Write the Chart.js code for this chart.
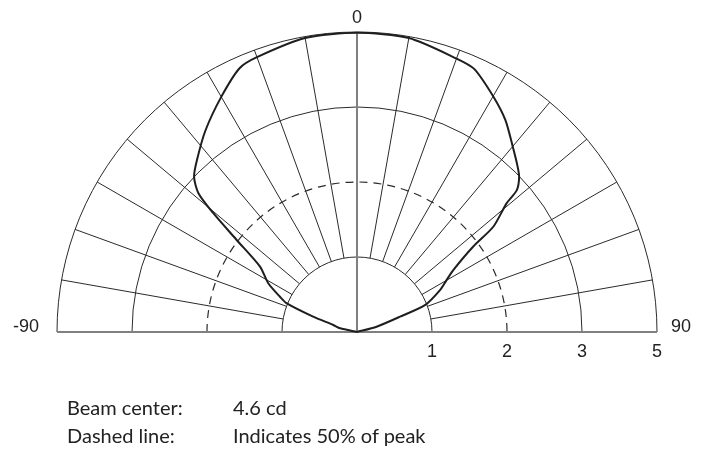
<!DOCTYPE html>
<html>
<head>
<meta charset="utf-8">
<script src="https://cdn.jsdelivr.net/npm/chart.js@4/dist/chart.umd.min.js"></script>
<style>
  html, body { margin: 0; padding: 0; background: #fff; }
  #wrap { position: relative; width: 707px; height: 450px; }
  canvas { display: block; }
  .note { position: absolute; font-family: Lato, "Noto Sans", sans-serif; font-size: 20px; color: #222; white-space: nowrap; }
</style>
</head>
<body>
<div id="wrap">
  <canvas id="chart" width="707" height="450"></canvas>
  <div class="note" style="left:67px; top:395px;">Beam center:</div>
  <div class="note" style="left:233px; top:395px;">4.6 cd</div>
  <div class="note" style="left:67px; top:423px;">Dashed line:</div>
  <div class="note" style="left:233px; top:423px;">Indicates 50% of peak</div>
</div>
<script>
// beam profile, angle from beam axis (deg) and radius in ring units
const angleDeg = [-90, -77.7, -73.5, -70.7, -67.8, -65.4, -61.2, -56, -52.6, -50.4, -48.8, -46.4, -43, -37, -30, -24, -20, -10,
                  0, 10, 20, 24, 30, 35, 40, 44, 46.3, 48.4, 49.3, 52.3, 53.7, 57.2, 59.9, 63.2, 68.3, 70.4, 74.9, 90];
const intensity = [0, 0.23, 0.33, 0.62, 1.01, 1.13, 1.35, 1.56, 2.02, 2.49, 2.81, 3.0, 3.13, 3.36, 3.62, 3.85, 3.90, 3.98,
                   3.99, 3.98, 3.88, 3.84, 3.63, 3.45, 3.23, 3.08, 2.99, 2.85, 2.63, 2.30, 1.92, 1.53, 1.38, 1.24, 0.98, 0.61, 0.27, 0];

const solidRings = [1, 3, 4];
const dashedRing = 2;
const spokeAngles = [-80, -70, -60, -50, -40, -30, -20, -10, 10, 20, 30, 40, 50, 60, 70, 80];
const tickPos = [1, 2, 3, 4];
const tickLabels = ['1', '2', '3', '5'];
const sideLabels = ['-90', '0', '90'];

const rad = d => d * Math.PI / 180;
const points = angleDeg.map((a, i) => ({ x: intensity[i] * Math.sin(rad(a)), y: intensity[i] * Math.cos(rad(a)) }));

const polarGrid = {
    id: 'polarGrid',
    beforeDatasetsDraw(chart) {
        const ctx = chart.ctx, sx = chart.scales.x, sy = chart.scales.y;
        const cx = sx.getPixelForValue(0), cy = sy.getPixelForValue(0);
        const unit = sx.getPixelForValue(1) - cx;
        ctx.save();
        ctx.strokeStyle = '#2a2a2a';
        ctx.lineWidth = 1;
        solidRings.forEach(r => {
            ctx.beginPath();
            ctx.arc(cx, cy, r * unit, Math.PI, 2 * Math.PI);
            ctx.stroke();
        });
        spokeAngles.forEach(a => {
            const s = Math.sin(rad(a)), c = Math.cos(rad(a));
            ctx.beginPath();
            ctx.moveTo(sx.getPixelForValue(s), sy.getPixelForValue(c));
            ctx.lineTo(sx.getPixelForValue(4 * s), sy.getPixelForValue(4 * c));
            ctx.stroke();
        });
        ctx.setLineDash([8, 6]);
        ctx.lineWidth = 1.2;
        ctx.beginPath();
        ctx.arc(cx, cy, dashedRing * unit, Math.PI, 2 * Math.PI);
        ctx.stroke();
        ctx.setLineDash([]);
        ctx.strokeStyle = '#808080';
        ctx.lineWidth = 2;
        ctx.beginPath();
        ctx.moveTo(sx.getPixelForValue(-4), cy);
        ctx.lineTo(sx.getPixelForValue(4), cy);
        ctx.moveTo(cx, cy);
        ctx.lineTo(cx, sy.getPixelForValue(4));
        ctx.stroke();
        ctx.restore();
    },
    afterDraw(chart) {
        const ctx = chart.ctx, sx = chart.scales.x, sy = chart.scales.y;
        const cy = sy.getPixelForValue(0);
        ctx.save();
        ctx.fillStyle = '#222';
        ctx.font = '18px "Liberation Sans", Arial, sans-serif';
        ctx.textBaseline = 'alphabetic';
        ctx.textAlign = 'center';
        tickPos.forEach((p, i) => ctx.fillText(tickLabels[i], sx.getPixelForValue(p), cy + 25));
        ctx.fillText(sideLabels[1], sx.getPixelForValue(0), sy.getPixelForValue(4) - 9);
        ctx.textAlign = 'right';
        ctx.fillText(sideLabels[0], sx.getPixelForValue(-4) - 18, cy);
        ctx.textAlign = 'left';
        ctx.fillText(sideLabels[2], sx.getPixelForValue(4) + 14, cy);
        ctx.restore();
    }
};

new Chart(document.getElementById('chart'), {
    type: 'scatter',
    data: {
        datasets: [
            {
                data: points,
                showLine: true,
                borderColor: '#1e1e1e',
                borderWidth: 2,
                pointRadius: 0,
                tension: 0.25,
                clip: false
            }
        ]
    },
    options: {
        responsive: false,
        animation: false,
        devicePixelRatio: 1,
        layout: { padding: { left: 57, right: 50, top: 32, bottom: 118 } },
        plugins: { legend: { display: false }, tooltip: { enabled: false } },
        scales: {
            x: { type: 'linear', min: -4, max: 4, display: false },
            y: { type: 'linear', min: 0, max: 4, display: false }
        }
    },
    plugins: [polarGrid]
});
</script>
</body>
</html>
